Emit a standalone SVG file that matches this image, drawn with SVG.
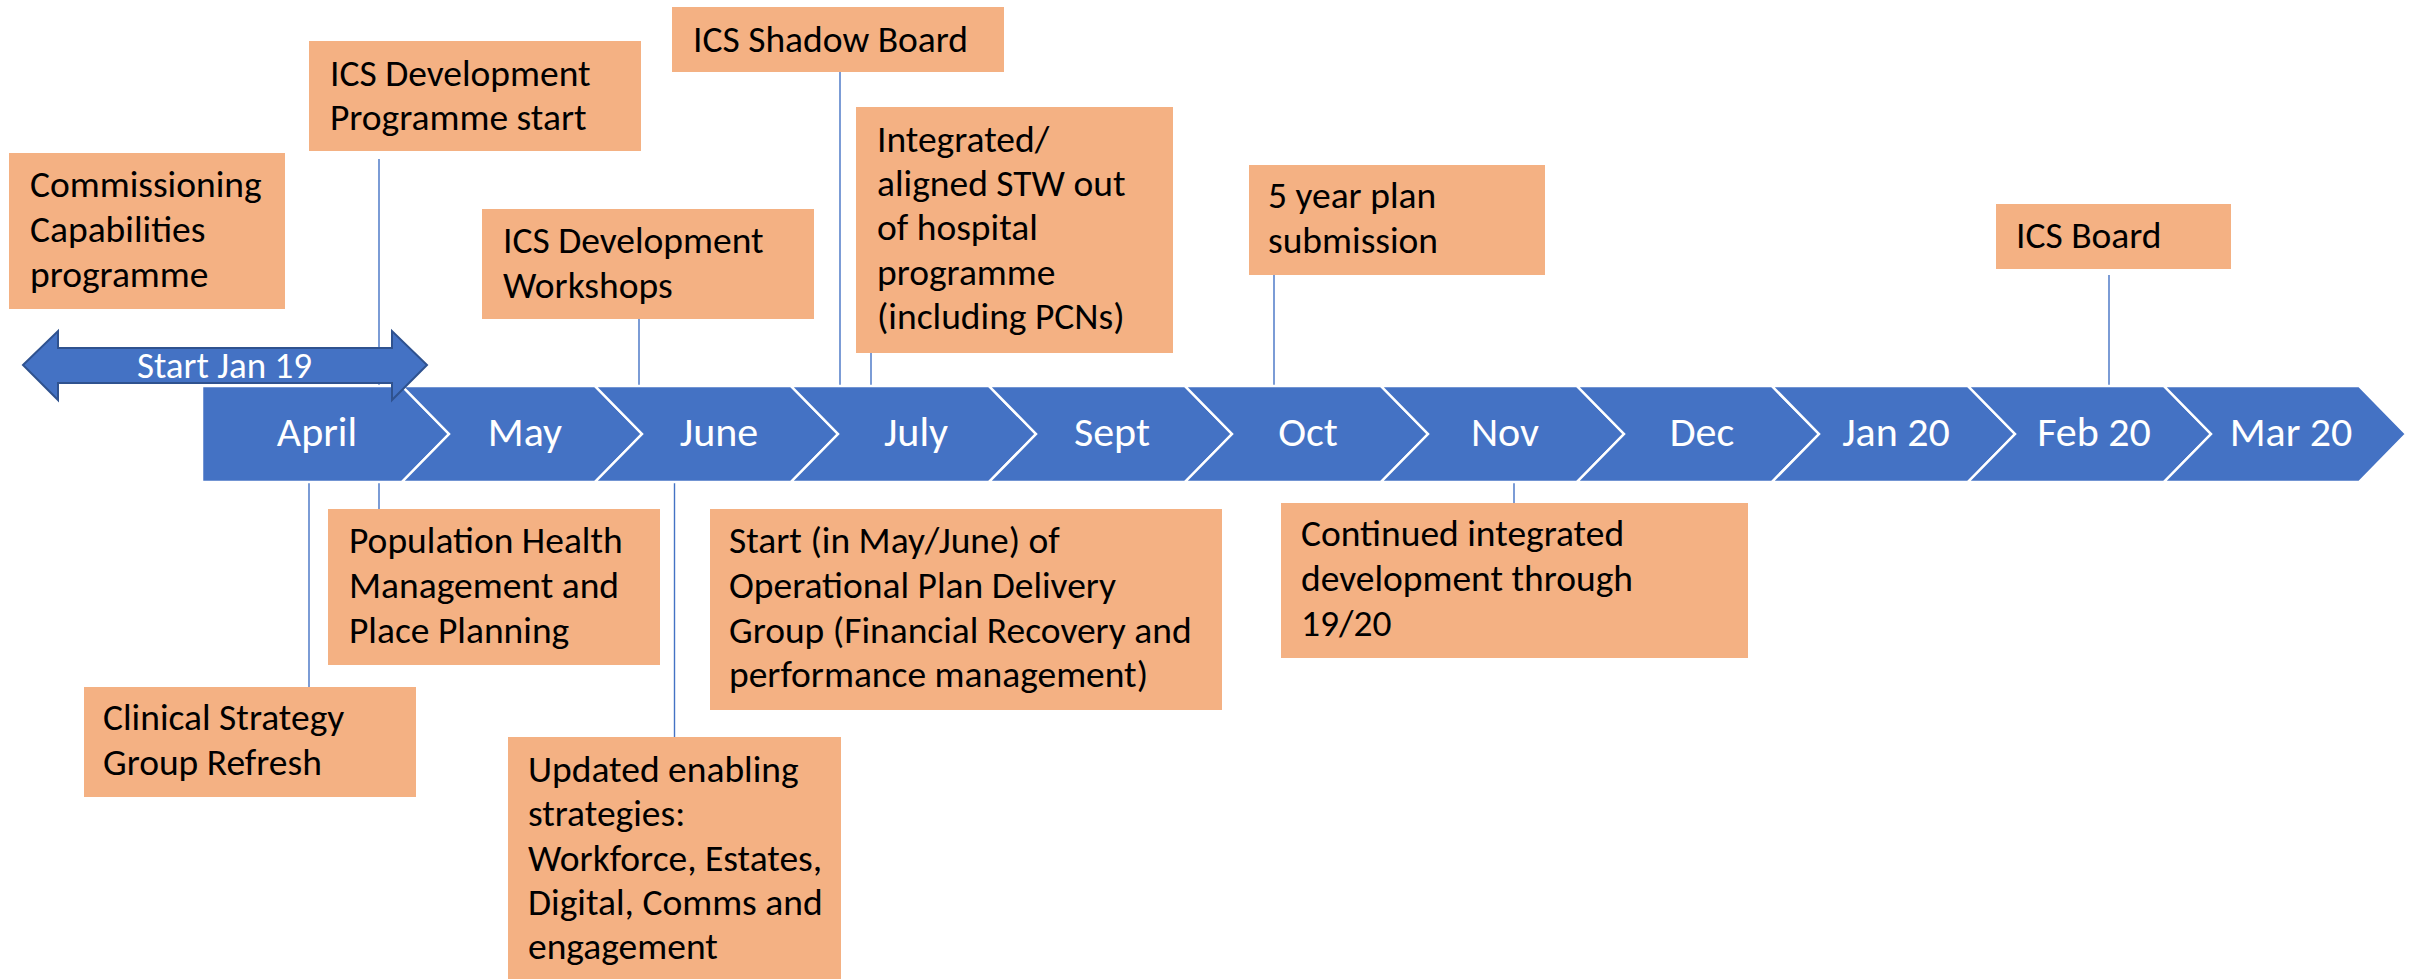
<svg xmlns="http://www.w3.org/2000/svg" width="2420" height="979" viewBox="0 0 2420 979">
<style>
.box{fill:#F4B183}
.bt{font-family:Carlito,Lato,"Liberation Sans",sans-serif;font-size:37.5px;fill:#000}
.conn line{stroke:#4472C4;stroke-width:1.4}
.chev{fill:#4472C4;stroke:#fff;stroke-width:2.5;stroke-linejoin:miter}
.mt{font-family:Carlito,Lato,"Liberation Sans",sans-serif;font-size:42px;fill:#fff;text-anchor:middle}
.dbl{fill:#4472C4;stroke:#2F528F;stroke-width:2}
</style>
<rect width="2420" height="979" fill="#fff"/>
<g id="connectors" class="conn">
<line x1="379" y1="159" x2="379" y2="509"/>
<line x1="309" y1="482" x2="309" y2="687"/>
<line x1="639" y1="319" x2="639" y2="387"/>
<line x1="674.5" y1="482" x2="674.5" y2="737"/>
<line x1="840" y1="72" x2="840" y2="387"/>
<line x1="871" y1="353" x2="871" y2="387"/>
<line x1="1274" y1="272" x2="1274" y2="386"/>
<line x1="2109" y1="275" x2="2109" y2="387"/>
<line x1="1514" y1="482" x2="1514" y2="503"/>
</g>
<g id="timeline">
<polygon class="chev" points="202,386 402,386 449,434 402,482 202,482"/>
<polygon class="chev" points="402,386 595,386 642,434 595,482 402,482 449,434"/>
<polygon class="chev" points="595,386 791,386 838,434 791,482 595,482 642,434"/>
<polygon class="chev" points="791,386 989,386 1036,434 989,482 791,482 838,434"/>
<polygon class="chev" points="989,386 1185,386 1232,434 1185,482 989,482 1036,434"/>
<polygon class="chev" points="1185,386 1381,386 1428,434 1381,482 1185,482 1232,434"/>
<polygon class="chev" points="1381,386 1577,386 1624,434 1577,482 1381,482 1428,434"/>
<polygon class="chev" points="1577,386 1772,386 1819,434 1772,482 1577,482 1624,434"/>
<polygon class="chev" points="1772,386 1968,386 2015,434 1968,482 1772,482 1819,434"/>
<polygon class="chev" points="1968,386 2164,386 2211,434 2164,482 1968,482 2015,434"/>
<polygon class="chev" points="2164,386 2359,386 2406,434 2359,482 2164,482 2211,434"/>
<text class="mt" x="317" y="446">April</text>
<text class="mt" x="525" y="446">May</text>
<text class="mt" x="719" y="446">June</text>
<text class="mt" x="916" y="446">July</text>
<text class="mt" x="1112" y="446">Sept</text>
<text class="mt" x="1308" y="446">Oct</text>
<text class="mt" x="1505" y="446">Nov</text>
<text class="mt" x="1702" y="446">Dec</text>
<text class="mt" x="1896" y="446">Jan 20</text>
<text class="mt" x="2094" y="446">Feb 20</text>
<text class="mt" x="2291" y="446">Mar 20</text>
</g>
<g id="start-jan-19">
<polygon class="dbl" points="23,365 58,331 58,348 392,348 392,331 427,365 392,400 392,383 58,383 58,400"/>
<text x="224.5" y="378" font-family="Carlito,Lato,'Liberation Sans',sans-serif" font-size="37" fill="#fff" text-anchor="middle">Start Jan 19</text>
</g>
<g id="commissioning">
<rect class="box" x="9" y="153" width="276" height="156"/>
<text class="bt"><tspan x="30" y="197">Commissioning</tspan><tspan x="30" y="242">Capabilities</tspan><tspan x="30" y="287">programme</tspan></text>
</g>
<g id="ics-dev-programme">
<rect class="box" x="309" y="41" width="332" height="110"/>
<text class="bt"><tspan x="330" y="86">ICS Development</tspan><tspan x="330" y="130">Programme start</tspan></text>
</g>
<g id="ics-dev-workshops">
<rect class="box" x="482" y="209" width="332" height="110"/>
<text class="bt"><tspan x="503" y="253">ICS Development</tspan><tspan x="503" y="298">Workshops</tspan></text>
</g>
<g id="ics-shadow-board">
<rect class="box" x="672" y="7" width="332" height="65"/>
<text class="bt" x="693" y="52">ICS Shadow Board</text>
</g>
<g id="integrated">
<rect class="box" x="856" y="107" width="317" height="246"/>
<text class="bt"><tspan x="877" y="152">Integrated/</tspan><tspan x="877" y="196">aligned STW out</tspan><tspan x="877" y="240">of hospital</tspan><tspan x="877" y="285">programme</tspan><tspan x="877" y="329">(including PCNs)</tspan></text>
</g>
<g id="five-year-plan">
<rect class="box" x="1249" y="165" width="296" height="110"/>
<text class="bt"><tspan x="1268" y="208">5 year plan</tspan><tspan x="1268" y="253">submission</tspan></text>
</g>
<g id="ics-board">
<rect class="box" x="1996" y="204" width="235" height="65"/>
<text class="bt" x="2016" y="248">ICS Board</text>
</g>
<g id="population-health">
<rect class="box" x="328" y="509" width="332" height="156"/>
<text class="bt"><tspan x="349" y="553">Population Health</tspan><tspan x="349" y="598">Management and</tspan><tspan x="349" y="643">Place Planning</tspan></text>
</g>
<g id="clinical-strategy">
<rect class="box" x="84" y="687" width="332" height="110"/>
<text class="bt"><tspan x="103" y="730">Clinical Strategy</tspan><tspan x="103" y="775">Group Refresh</tspan></text>
</g>
<g id="updated-enabling">
<rect class="box" x="508" y="737" width="333" height="250"/>
<text class="bt"><tspan x="528" y="782">Updated enabling</tspan><tspan x="528" y="826">strategies:</tspan><tspan x="528" y="871">Workforce, Estates,</tspan><tspan x="528" y="915">Digital, Comms and</tspan><tspan x="528" y="959">engagement</tspan></text>
</g>
<g id="operational-plan">
<rect class="box" x="710" y="509" width="512" height="201"/>
<text class="bt"><tspan x="729" y="553">Start (in May/June) of</tspan><tspan x="729" y="598">Operational Plan Delivery</tspan><tspan x="729" y="643">Group (Financial Recovery and</tspan><tspan x="729" y="687">performance management)</tspan></text>
</g>
<g id="continued">
<rect class="box" x="1281" y="503" width="467" height="155"/>
<text class="bt"><tspan x="1301" y="546">Continued integrated</tspan><tspan x="1301" y="591">development through</tspan><tspan x="1301" y="636">19/20</tspan></text>
</g>
</svg>
